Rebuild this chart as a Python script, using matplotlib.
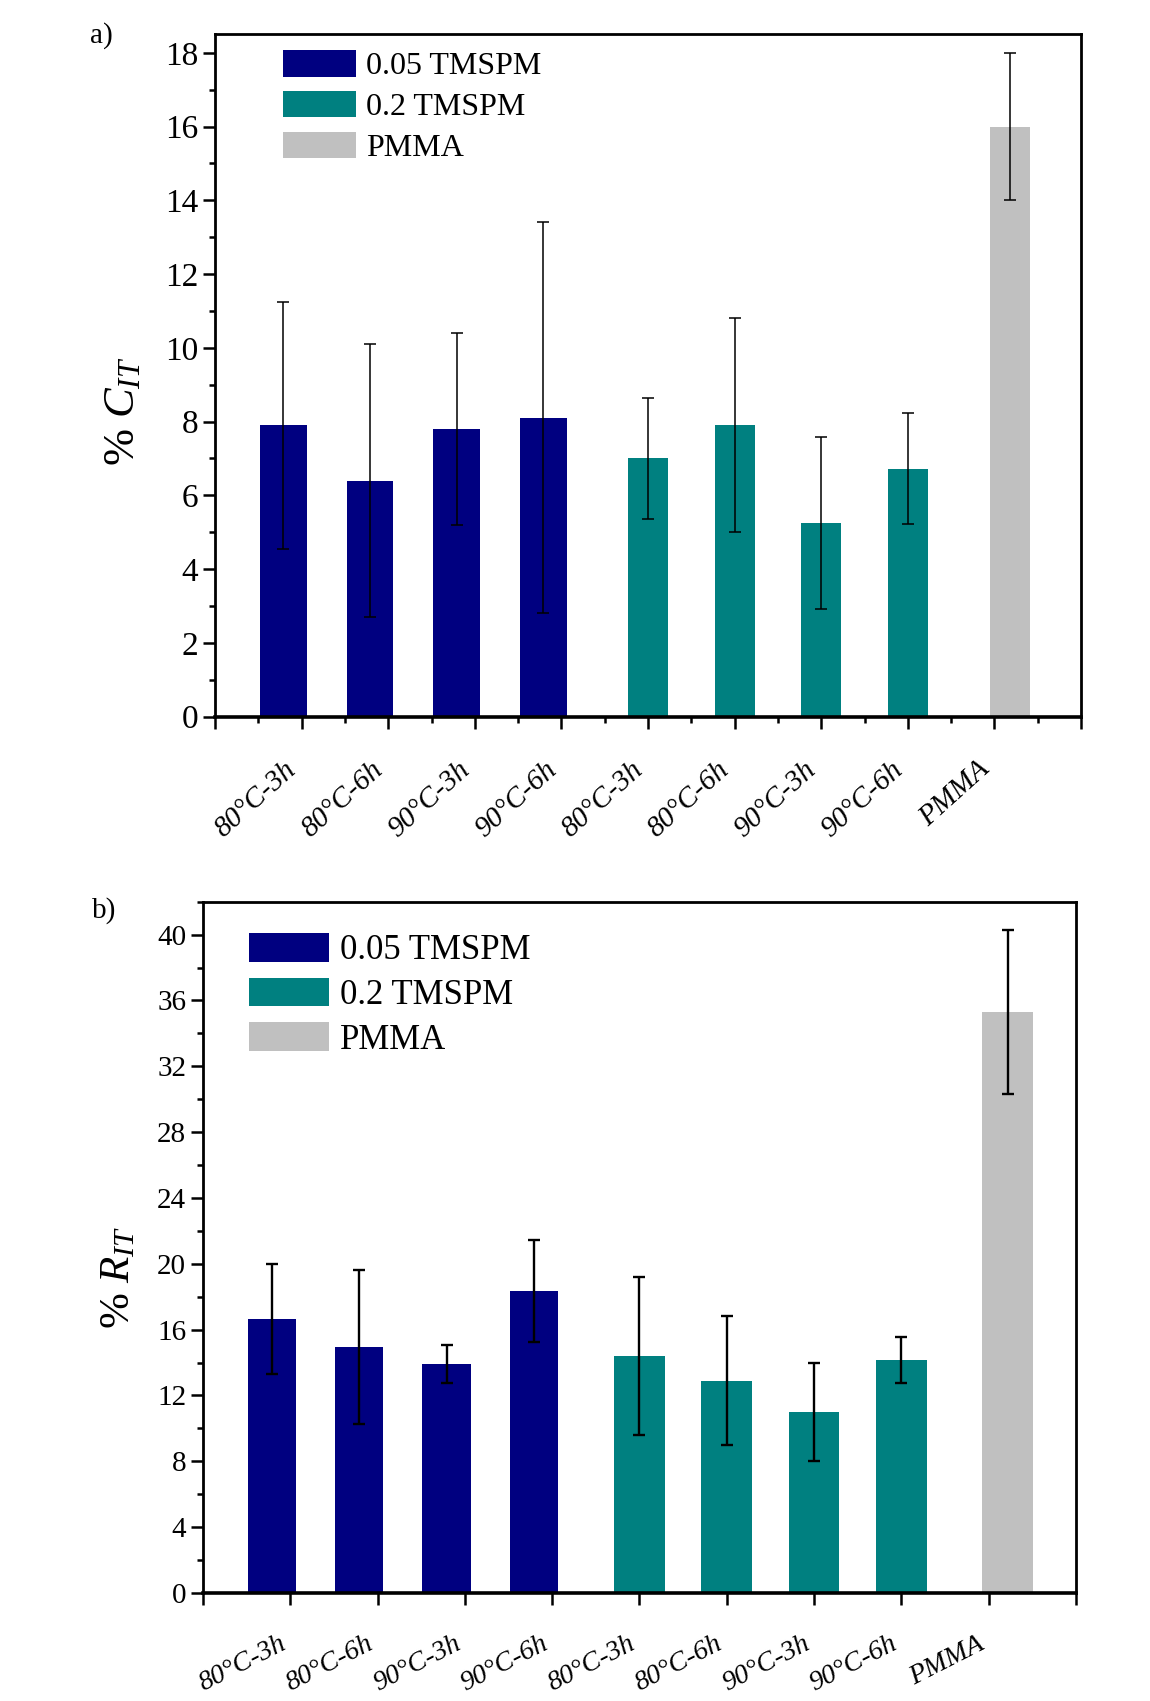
import numpy as np
import matplotlib
matplotlib.use('Agg')
import matplotlib.pyplot as plt
import matplotlib.transforms as mtrans
from matplotlib.patches import Patch
from matplotlib.ticker import MultipleLocator

plt.rcParams['font.family'] = 'Liberation Serif'
plt.rcParams['mathtext.fontset'] = 'custom'
plt.rcParams['mathtext.rm'] = 'Liberation Serif'
plt.rcParams['mathtext.it'] = 'Liberation Serif:italic'

# data
labels = ['80°C-3h', '80°C-6h', '90°C-3h', '90°C-6h',
          '80°C-3h', '80°C-6h', '90°C-3h', '90°C-6h', 'PMMA']
groups = ['0.05 TMSPM'] * 4 + ['0.2 TMSPM'] * 4 + ['PMMA']
group_names = ['0.05 TMSPM', '0.2 TMSPM', 'PMMA']
group_colors = {'0.05 TMSPM': '#000080', '0.2 TMSPM': '#008080', 'PMMA': '#C0C0C0'}

cit_mean = [7.9, 6.4, 7.8, 8.1, 7.0, 7.9, 5.25, 6.72, 16.0]
cit_err = [3.35, 3.7, 2.6, 5.3, 1.65, 2.9, 2.33, 1.5, 2.0]

rit_mean = [16.65, 14.95, 13.9, 18.35, 14.4, 12.9, 11.0, 14.15, 35.3]
rit_err = [3.35, 4.7, 1.15, 3.1, 4.8, 3.9, 3.0, 1.4, 5.0]


def panel(ax, mean, err, ylabel, ylim, ymaj, ymin, offsets, widths, elw,
          fs_tick, fs_xt, fs_leg, fs_lab, lab_xy, rot, pad, leg_anchor, minor_x, dx):
    idx = np.arange(1, len(labels) + 1)
    for g in group_names:
        sel = [i for i in range(len(labels)) if groups[i] == g]
        xs = idx[sel] + offsets[g]
        ax.bar(xs, [mean[i] for i in sel], width=widths[g], color=group_colors[g],
               label=g, zorder=2)
        ax.errorbar(xs, [mean[i] for i in sel], yerr=[err[i] for i in sel], fmt='none',
                    ecolor='black', elinewidth=elw, capsize=4.5, capthick=elw, zorder=3)
    ax.set_xlim(0, 10)
    ax.set_ylim(*ylim)
    ax.set_xticks(np.arange(0, 11))
    ax.set_xticklabels([''] + labels + [''], rotation=rot, ha='right', va='top',
                       fontstyle='italic', fontsize=fs_xt)
    off = mtrans.ScaledTranslation(dx / 100, 0, ax.figure.dpi_scale_trans)
    for t in ax.get_xticklabels():
        t.set_transform(t.get_transform() + off)
    if minor_x:
        ax.xaxis.set_minor_locator(MultipleLocator(0.5))
    ax.yaxis.set_major_locator(MultipleLocator(ymaj))
    ax.yaxis.set_minor_locator(MultipleLocator(ymin))
    ax.tick_params(axis='both', which='major', direction='out', length=8.6, width=1.8,
                   labelsize=fs_tick)
    ax.tick_params(axis='both', which='minor', direction='out', length=4.5, width=1.8)
    ax.tick_params(axis='x', which='major', pad=pad, labelsize=fs_xt)
    ax.tick_params(top=False, right=False, which='both')
    for s in ax.spines.values():
        s.set_linewidth(2.0)
    ax.spines['bottom'].set_linewidth(2.6)
    ax.set_ylabel(ylabel, fontsize=fs_lab)
    ax.yaxis.set_label_coords(*lab_xy)
    handles = [Patch(facecolor=group_colors[g]) for g in group_names]
    ax.legend(handles, group_names, loc='upper left', bbox_to_anchor=leg_anchor,
              frameon=False, fontsize=fs_leg, handlelength=2.3, handleheight=0.9,
              handletextpad=0.3, labelspacing=0.3, borderpad=0, borderaxespad=0)


fig = plt.figure(figsize=(11.5, 17.01), dpi=100)
ax1 = fig.add_axes([0.187, 0.5787, 0.753, 0.4011])
ax2 = fig.add_axes([0.1765, 0.0635, 0.759, 0.4064])

panel(ax1, cit_mean, cit_err, r'% $C_{IT}$', (0, 18.5), 2, 1,
      {'0.05 TMSPM': -0.21, '0.2 TMSPM': 0.0, 'PMMA': 0.18},
      {'0.05 TMSPM': 0.54, '0.2 TMSPM': 0.46, 'PMMA': 0.46},
      1.1, 24, 21, 23, 32, (-0.083, 0.448), 42, 20, (0.078, 0.977), True, 22)
panel(ax2, rit_mean, rit_err, r'% $R_{IT}$', (0, 42), 4, 2,
      {'0.05 TMSPM': -0.21, '0.2 TMSPM': 0.0, 'PMMA': 0.22},
      {'0.05 TMSPM': 0.55, '0.2 TMSPM': 0.58, 'PMMA': 0.58},
      1.7, 21, 20, 25, 31, (-0.0745, 0.457), 27, 19, (0.053, 0.955), False, 8)

fig.text(90 / 1150, 1 - 43 / 1701, 'a)', fontsize=21, ha='left', va='baseline')
fig.text(92 / 1150, 1 - 918 / 1701, 'b)', fontsize=21, ha='left', va='baseline')

fig.savefig('out.png', dpi=100)
